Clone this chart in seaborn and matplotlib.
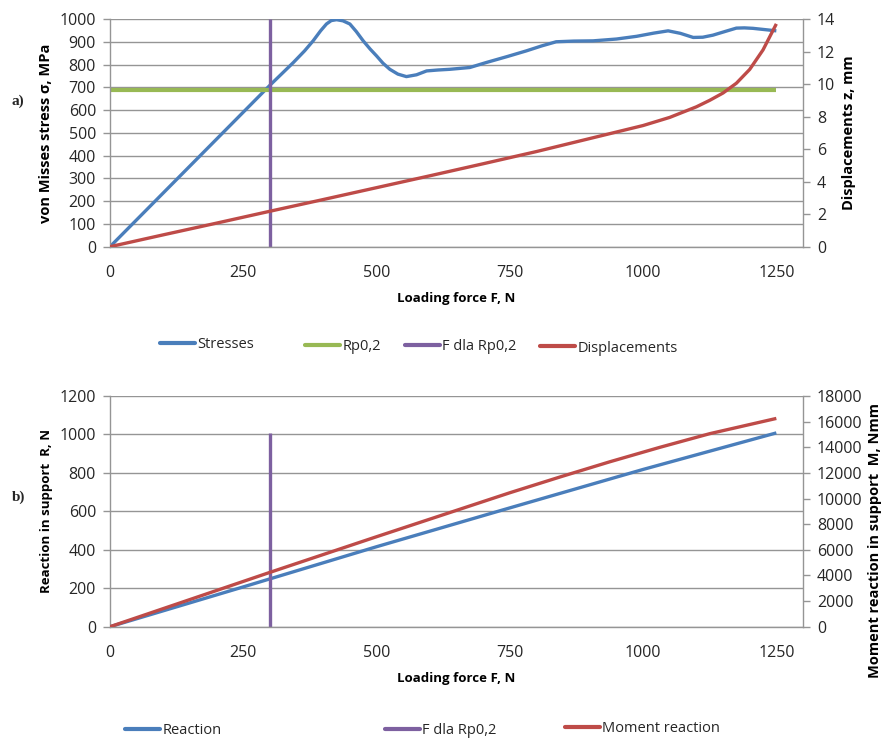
import matplotlib
matplotlib.use("Agg")
import matplotlib.pyplot as plt
import seaborn as sns
from matplotlib.lines import Line2D

# ---------------- data (a) ----------------
force_stress = [0, 300, 344, 365, 381, 395, 406, 415, 425, 437, 450, 462, 475, 488,
                500, 512, 525, 540, 556, 575, 594, 615, 637, 675, 706, 745, 781, 810,
                837, 870, 906, 950, 988, 1020, 1047, 1070, 1094, 1112, 1131, 1155,
                1175, 1190, 1206, 1230, 1250]
stress = [0, 709, 809, 860, 904, 948, 978, 993, 997, 992, 978, 945, 904, 868,
          838, 806, 779, 758, 747, 755, 772, 776, 779, 787, 809, 835, 860, 882,
          900, 903, 904, 912, 924, 938, 948, 937, 919, 920, 929, 946,
          960, 961, 959, 953, 948]
force_rp = [0, 1250]
rp02 = [690, 690]
force_f_rp = [300, 300]
sigma_f_rp = [0, 1000]
force_disp = [0, 100, 200, 300, 400, 500, 600, 700, 800, 900, 1000, 1050, 1100,
              1125, 1150, 1175, 1200, 1225, 1250]
displacement = [0, 0.73, 1.45, 2.18, 2.9, 3.63, 4.36, 5.1, 5.85, 6.65, 7.45, 7.95,
                8.6, 9.0, 9.45, 10.05, 10.9, 12.1, 13.7]

# ---------------- data (b) ----------------
force_react = [0, 250, 500, 750, 1000, 1250]
reaction = [0, 207, 416, 618, 818, 1008]
force_f_rp_b = [300, 300]
reaction_f_rp = [0, 1010]
force_moment = [0, 300, 500, 750, 844, 937, 1031, 1125, 1250]
moment = [0, 4240, 7020, 10450, 11680, 12860, 13990, 15060, 16250]

x_ticks = [0, 250, 500, 750, 1000, 1250]

BLUE = "#4A7EBB"
RED = "#BE4B48"
GREEN = "#98B954"
PURPLE = "#7D60A0"
GRID = "#959595"
TXT = "#262626"

sns.set_theme(style="white")
plt.rcParams["font.family"] = ["Open Sans", "DejaVu Sans"]

fig = plt.figure(figsize=(8.86, 7.39), dpi=100)

ax1 = fig.add_axes([110 / 886, 1 - 246.7 / 739, 693 / 886, 227.7 / 739])
ax2 = fig.add_axes([110 / 886, 1 - 626.7 / 739, 693 / 886, 230.7 / 739])

LW = 2.4
TICK_FS = 11.5


def style_axis(ax, ymax, ystep):
    ax.set_xlim(0, 1300)
    ax.set_ylim(0, ymax)
    ax.set_xticks(x_ticks)
    ax.set_yticks(list(range(0, ymax + 1, ystep)))
    ax.yaxis.grid(True, color=GRID, linewidth=1.0)
    ax.xaxis.grid(False)
    ax.set_axisbelow(True)
    for s in ["top", "right"]:
        ax.spines[s].set_visible(False)
    for s in ["left", "bottom"]:
        ax.spines[s].set_visible(True)
        ax.spines[s].set_color(GRID)
        ax.spines[s].set_linewidth(1.0)
    ax.tick_params(axis="both", which="major", direction="out", length=5,
                   width=1.0, color=GRID, labelsize=TICK_FS, labelcolor=TXT, pad=5)
    ax.tick_params(axis="x", pad=8)


def style_twin(ax, ymax, ystep):
    ax.set_ylim(0, ymax)
    ax.set_yticks(list(range(0, ymax + 1, ystep)))
    ax.grid(False)
    for s in ["top", "left", "bottom"]:
        ax.spines[s].set_visible(False)
    ax.spines["right"].set_visible(True)
    ax.spines["right"].set_color(GRID)
    ax.spines["right"].set_linewidth(1.0)
    ax.tick_params(axis="y", direction="out", length=5, width=1.0, color=GRID,
                   labelsize=TICK_FS, labelcolor=TXT, pad=5)


def line(ax, x, y, color, lw=LW):
    sns.lineplot(x=x, y=y, ax=ax, color=color, lw=lw, sort=False,
                 estimator=None, solid_capstyle="butt")


# ---------------- chart (a) ----------------
style_axis(ax1, 1000, 100)
ax1b = ax1.twinx()
style_twin(ax1b, 14, 2)

line(ax1, force_stress, stress, BLUE)
line(ax1, force_rp, rp02, GREEN, LW + 0.6)
line(ax1, force_f_rp, sigma_f_rp, PURPLE)
line(ax1b, force_disp, displacement, RED)

ax1.set_xlabel("Loading force F, N", fontsize=9.5, fontweight="bold", color="black",
               labelpad=8)
ax1.set_ylabel("von Misses stress σ, MPa", fontsize=10.5, fontweight="bold",
               color="black", labelpad=5)
ax1b.set_ylabel("Displacements z, mm", fontsize=10.5, fontweight="bold",
                color="black", labelpad=5)

# ---------------- chart (b) ----------------
style_axis(ax2, 1200, 200)
ax2b = ax2.twinx()
style_twin(ax2b, 18000, 2000)

line(ax2, force_react, reaction, BLUE)
line(ax2, force_f_rp_b, reaction_f_rp, PURPLE)
line(ax2b, force_moment, moment, RED)

ax2.set_xlabel("Loading force F, N", fontsize=9.5, fontweight="bold", color="black",
               labelpad=8)
ax2.set_ylabel("Reaction in support  R, N", fontsize=9.5, fontweight="bold",
               color="black", labelpad=5)
ax2b.set_ylabel("Moment reaction in support  M, Nmm", fontsize=10.5,
                fontweight="bold", color="black")
ax2b.yaxis.set_label_coords(1 + (868 - 803) / 693, (626.7 - 540) / 230.7)

# ---------------- panel letters ----------------
fig.text(12 / 886, 1 - 101 / 739, "a)", fontsize=11, fontweight="bold",
         family="Liberation Serif", ha="left", va="center")
fig.text(12 / 886, 1 - 497 / 739, "b)", fontsize=11, fontweight="bold",
         family="Liberation Serif", ha="left", va="center")


# ---------------- legends ----------------
def add_entry(label, color, xpix, ypix):
    h = Line2D([0], [0], color=color, lw=3)
    fig.legend(handles=[h], labels=[label], loc="center left",
               bbox_to_anchor=(xpix / 886, 1 - ypix / 739), frameon=False,
               fontsize=10.5, handlelength=2.4, handletextpad=0.15,
               borderpad=0, borderaxespad=0, labelcolor=TXT)


add_entry("Stresses", BLUE, 160, 345)
add_entry("Rp0,2", GREEN, 305, 347)
add_entry("F dla Rp0,2", PURPLE, 405, 347)
add_entry("Displacements", RED, 540, 348)

add_entry("Reaction", BLUE, 125, 731)
add_entry("F dla Rp0,2", PURPLE, 385, 731)
add_entry("Moment reaction", RED, 565, 729)

fig.savefig("out.png", dpi=100)
